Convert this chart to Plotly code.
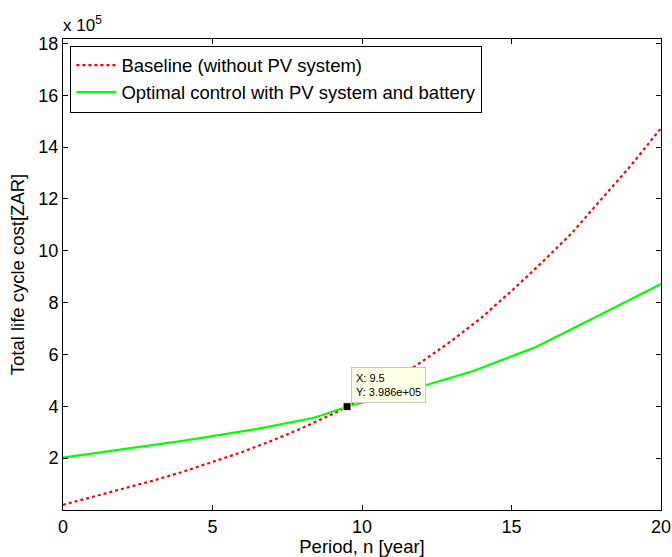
import plotly.graph_objects as go

# Baseline total life cycle cost (x 10^5 ZAR) at each year
years = list(range(0, 21))
baseline = [0.20, 0.50, 0.81, 1.13, 1.47, 1.84, 2.24, 2.68, 3.16, 3.69, 4.29,
            4.97, 5.72, 6.53, 7.42, 8.45, 9.53, 10.66, 11.96, 13.30, 14.73]

# Optimal control with PV system and battery (x 10^5 ZAR)
opt_years = [0, 2, 4, 6.5, 8.4, 9.5, 11.5, 13.7, 15.8, 18, 20]
optimal = [2.02, 2.34, 2.67, 3.13, 3.56, 3.986, 4.60, 5.35, 6.28, 7.55, 8.72]

# Data tip
tip_x = 9.5
tip_y = 3.986

SCALE = 1e5
y_ticks = [2, 4, 6, 8, 10, 12, 14, 16, 18]
x_ticks = [0, 5, 10, 15, 20]

FONT = "Liberation Sans, Arial, sans-serif"

fig = go.Figure()
fig.add_trace(go.Scatter(
    x=years, y=[v * SCALE for v in baseline], mode="lines",
    name="Baseline (without PV system)",
    line=dict(color="#ff0000", width=2.2, dash="dot"),
))
fig.add_trace(go.Scatter(
    x=opt_years, y=[v * SCALE for v in optimal], mode="lines",
    name="Optimal control with PV system and battery",
    line=dict(color="#00ff00", width=2.2),
))
fig.add_trace(go.Scatter(
    x=[tip_x], y=[tip_y * SCALE], mode="markers", showlegend=False,
    marker=dict(symbol="square", size=8, color="black",
                line=dict(color="#ffffe0", width=1)),
))

fig.add_annotation(
    x=tip_x, y=tip_y * SCALE, xref="x", yref="y",
    text=f"X: {tip_x}<br>Y: {tip_y * SCALE:.3e}",
    showarrow=False, xanchor="left", yanchor="bottom",
    xshift=4, yshift=4, align="left",
    font=dict(family=FONT, size=11, color="black"),
    bgcolor="#ffffe6", bordercolor="#c8c8c8", borderwidth=1, borderpad=4,
)

fig.add_annotation(
    x=0, y=1, xref="paper", yref="paper",
    text="x 10<sup>5</sup>", showarrow=False,
    xanchor="left", yanchor="bottom", xshift=-2, yshift=2,
    font=dict(family=FONT, size=17, color="black"),
)

axis_common = dict(
    showgrid=False, zeroline=False, showline=True, linecolor="black",
    linewidth=1, mirror="ticks", ticks="inside", ticklen=5,
    tickcolor="black", tickfont=dict(family=FONT, size=18, color="black"),
)

fig.update_xaxes(
    range=[0, 20], tickvals=x_ticks, ticktext=[str(t) for t in x_ticks],
    title=dict(text="Period, n [year]", standoff=6,
               font=dict(family=FONT, size=18.5, color="black")),
    **axis_common,
)
fig.update_yaxes(
    range=[0, 18.17 * SCALE], tickvals=[t * SCALE for t in y_ticks],
    ticktext=[str(t) for t in y_ticks],
    title=dict(text="Total life cycle cost[ZAR]", standoff=8,
               font=dict(family=FONT, size=18.5, color="black")),
    **axis_common,
)

fig.update_layout(
    width=672, height=557,
    margin=dict(l=63, r=11, t=39, b=47, autoexpand=False),
    paper_bgcolor="white", plot_bgcolor="white",
    font=dict(family=FONT, color="black"),
    legend=dict(
        x=0.0124, y=0.986, xanchor="left", yanchor="top",
        bgcolor="white", bordercolor="black", borderwidth=1,
        font=dict(family=FONT, size=18.5, color="black"),
        tracegroupgap=0, itemwidth=40,
    ),
)

fig.write_html("out.html")
